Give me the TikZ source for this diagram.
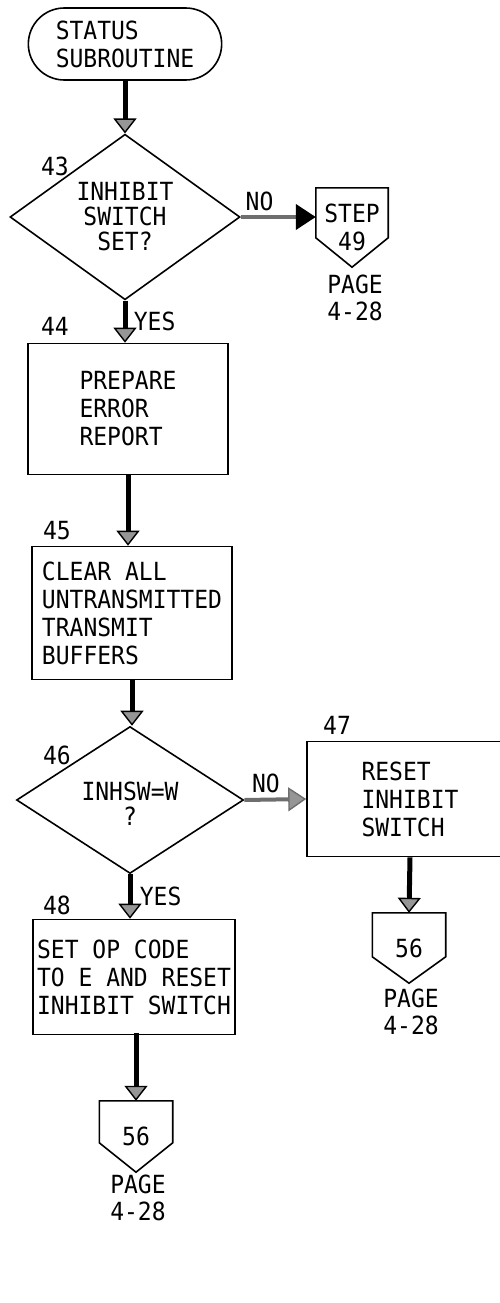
\documentclass[tikz,border=0pt]{standalone}
\usepackage{fontspec}
\newfontfamily\flowfont[FakeStretch=0.92]{DejaVu Sans Mono}
\usetikzlibrary{shapes.geometric,shapes.misc,arrows.meta,calc}

\begin{document}
\begin{tikzpicture}[x=1pt,y=-1pt,
		font=\flowfont\fontsize{25}{28}\selectfont,
		terminal/.style={rounded rectangle, draw, line width=1.6pt, minimum width=200pt, minimum height=72pt, align=left},
		decision/.style={diamond, draw, line width=1.6pt, inner sep=0pt, align=center, font=\flowfont\fontsize{25}{25}\selectfont},
		process/.style={rectangle, draw, line width=1.6pt, inner sep=3pt, align=left},
		offpage/.style={rectangle, inner sep=0pt, align=center},
		pagelabel/.style={align=center, font=\flowfont\fontsize{25}{27}\selectfont},
		flowline/.style={line width=5pt, -{Triangle[length=15pt,width=23pt,line width=1.4pt,fill=tipgray]}},
		noline/.style={line width=4pt, draw=nogray, -{Triangle[length=18pt,width=24pt,line width=1.4pt,fill=tipgray]}}]
		
		% Define colors
		\definecolor{tipgray}{RGB}{150, 150, 150}
		\definecolor{nogray}{RGB}{110, 110, 110}
		
		\useasboundingbox (0,0) rectangle (500,1303);
		
		% Draw the entry point and the first test
		\node[terminal] (start) at (125,44) {STATUS\\SUBROUTINE};
		\node[decision, minimum width=230pt, minimum height=130pt] (d43) at (125,217) {INHIBIT\\SWITCH\\SET?};
		\node (n43) at (55,166) {43};
		
		% Off-page connector to step 49
		\node[offpage, minimum width=72pt, minimum height=79pt] (c49) at (352,227.5) {STEP\\49};
		\node[pagelabel] (pg49) at (355,298) {PAGE\\4-28};
		
		% Draw the process boxes
		\node[process, minimum width=200pt, minimum height=131pt] (b44) at (128,409) {PREPARE\\ERROR\\REPORT};
		\node (n44) at (55,326) {44};
		\node[process, minimum width=200pt, minimum height=133pt] (b45) at (132,613) {CLEAR ALL\\UNTRANSMITTED\\TRANSMIT\\BUFFERS};
		\node (n45) at (57,531) {45};
		
		% Second test
		\node[decision, minimum width=227pt, minimum height=114pt] (d46) at (130,800) {~\\INHSW=W\\?};
		\node (n46) at (57,755) {46};
		
		% Draw the two branches
		\node[process, minimum width=206pt, minimum height=115pt] (b47) at (410,799) {RESET\\INHIBIT\\SWITCH};
		\node (n47) at (337,725) {47};
		\node[process, inner sep=2pt, minimum width=202pt, minimum height=115pt] (b48) at (134,977) {SET OP CODE\\TO E AND RESET\\INHIBIT SWITCH};
		\node (n48) at (57,905) {48};
		
		% Off-page connectors to step 56
		\node[offpage, minimum width=73pt, minimum height=70pt] (c56a) at (409,948) {56};
		\node[pagelabel] (pg56a) at (411,1012) {PAGE\\4-28};
		\node[offpage, minimum width=73pt, minimum height=71pt] (c56b) at (136,1136.5) {56};
		\node[pagelabel] (pg56b) at (138,1198) {PAGE\\4-28};
		
		% Outline of the off-page connectors (square top, pointed bottom)
		\foreach \c/\r in {c49/50, c56a/44, c56b/42}
			\draw[line width=1.6pt, line join=miter] (\c.north west) -- (\c.north east) -- ($(\c.north east)+(0,\r)$) -- (\c.south) -- ($(\c.north west)+(0,\r)$) -- cycle;
		
		% Add the flow lines
		\draw[flowline] (start.south) -- (d43.north);
		\draw[flowline] (d43.south) -- (d43.south |- b44.north) node[midway, right=3pt] (yes43) {YES};
		\draw[flowline] (b44.south) -- (b44.south |- b45.north);
		\draw[flowline] (b45.south) -- (b45.south |- d46.north);
		\draw[flowline] (d46.south) -- (d46.south |- b48.north) node[midway, right=4pt] (yes46) {YES};
		\draw[flowline] (b47.south) -- (c56a.north);
		\draw[flowline] (b48.south) -- (b48.south -| c56b.north) -- (c56b.north);
		
		% Add the NO branches
		\draw[noline, -{Triangle[length=20pt,width=25pt,color=black,fill=black]}] (d43.east) -- (d43.east -| c49.west) node[pos=0.25, above=1pt] (no43) {NO};
		\draw[noline] (d46.east) -- (b47.west) node[pos=0.35, above=1pt] (no46) {NO};
	\end{tikzpicture}
\end{document}
